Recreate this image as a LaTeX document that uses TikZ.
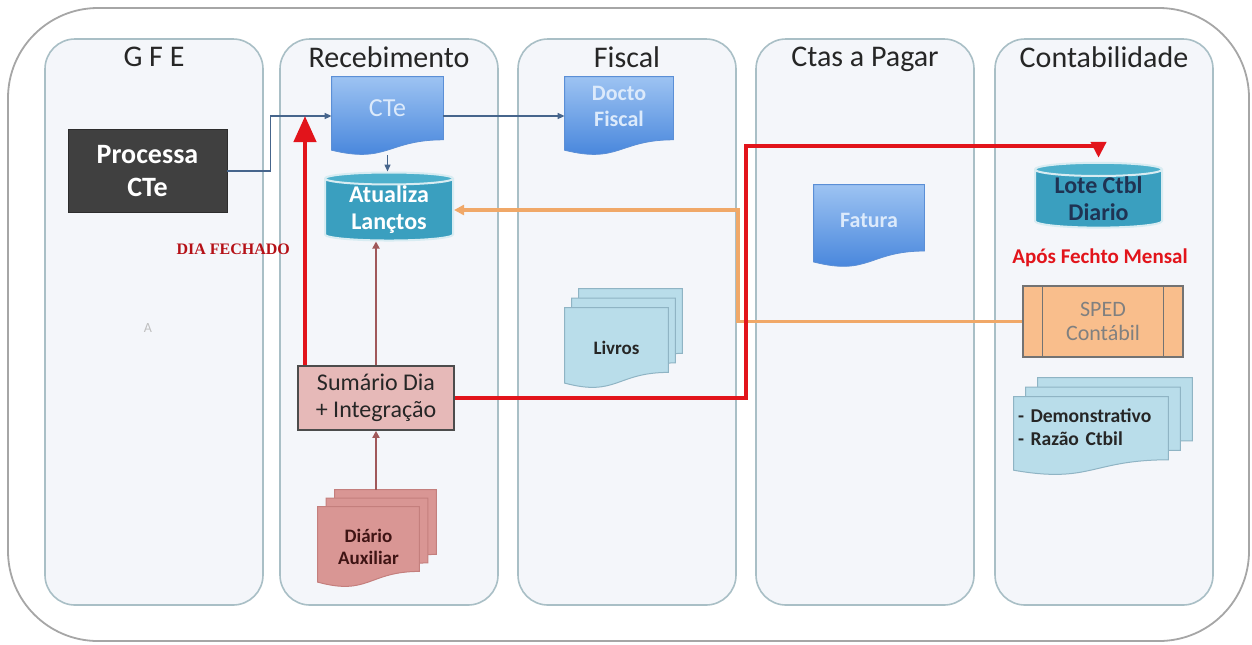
\documentclass[tikz,border=0pt]{standalone}
\usepackage{fontspec}
\setmainfont{Carlito}
\newfontfamily\timesfont{Liberation Serif}
\usetikzlibrary{arrows.meta,positioning,calc,shapes.geometric}

\definecolor{laneFill}{HTML}{F4F6FA}
\definecolor{laneLine}{HTML}{A9BFC6}
\definecolor{outerLine}{HTML}{A6A6A6}
\definecolor{procGray}{HTML}{404040}
\definecolor{docTop}{HTML}{9DC3F2}
\definecolor{docBot}{HTML}{3F80DA}
\definecolor{docLine}{HTML}{5B8FD6}
\definecolor{docText}{HTML}{DCEAFB}
\definecolor{dbBody}{HTML}{3A9FBF}
\definecolor{dbEnd}{HTML}{4DB0CC}
\definecolor{loteText}{HTML}{1F3353}
\definecolor{paleBlue}{HTML}{B9DDEA}
\definecolor{paleLine}{HTML}{8FB4C4}
\definecolor{pinkFill}{HTML}{E6B9B8}
\definecolor{roseFill}{HTML}{D99694}
\definecolor{roseLine}{HTML}{C47F7D}
\definecolor{roseText}{HTML}{3F1414}
\definecolor{spedFill}{HTML}{F9BE8C}
\definecolor{flowRed}{HTML}{E2141B}
\definecolor{flowOrange}{HTML}{F0A868}
\definecolor{flowBlue}{HTML}{46658C}
\definecolor{flowBrown}{HTML}{A0585A}

\pgfdeclarelayer{lanes}
\pgfdeclarelayer{sheets}
\pgfsetlayers{lanes,sheets,main}

% document sheet with wavy bottom behind a node (#3,#4 = shift right/up)
\newcommand{\docbg}[4]{%
  \path[#2] let \p1=(#1.north west), \p2=(#1.south east),
      \n1={\x2-\x1}, \n2={\y1-\y2} in
    (\x1+#3,\y1+#4) -- (\x2+#3,\y1+#4) -- (\x2+#3,\y1+#4-0.802*\n2)
    .. controls (\x1+#3+0.5*\n1,\y1+#4-0.802*\n2)
            and (\x1+#3+0.5*\n1,\y1+#4-1.107*\n2)
    .. (\x1+#3,\y1+#4-0.934*\n2) -- cycle;}

\begin{document}
\begin{tikzpicture}[x=0.5pt,y=-0.5pt,
  outerbox/.style={draw=outerLine,fill=white,line width=0.9pt,rounded corners=45pt},
  lane/.style={draw=laneLine,fill=laneFill,line width=0.8pt,rounded corners=15pt,
               minimum width=109pt,minimum height=283pt,inner sep=0pt},
  lanetitle/.style={font=\fontsize{15}{18}\selectfont,text=black!85,inner sep=0pt},
  procbox/.style={fill=procGray,draw=procGray!70!black,text=white,align=center,
                  font=\bfseries\fontsize{14}{16.5}\selectfont,
                  minimum width=79.5pt,minimum height=41.5pt},
  docnode/.style={inner sep=0pt,align=center},
  docblue/.style={top color=docTop,bottom color=docBot,draw=docLine,line width=0.4pt},
  docpale/.style={fill=paleBlue,draw=paleLine,line width=0.5pt},
  docrose/.style={fill=roseFill,draw=roseLine,line width=0.5pt},
  dbnode/.style={cylinder,shape border rotate=90,aspect=0.15,draw=white!80!dbBody,
                 line width=1pt,cylinder uses custom fill,cylinder body fill=dbBody,
                 cylinder end fill=dbEnd,align=center,inner sep=0pt,
                 font=\bfseries\fontsize{12}{13.5}\selectfont},
  sumbox/.style={fill=pinkFill,draw=black!70,line width=0.8pt,align=center,
                 font=\fontsize{12}{13.5}\selectfont,text=black!85,
                 minimum width=78pt,minimum height=32pt},
  spedbox/.style={fill=spedFill,draw=black!55,line width=0.7pt,align=center,
                  font=\fontsize{11}{12}\selectfont,text=black!50,
                  minimum width=80pt,minimum height=35.5pt},
  redtext/.style={font=\bfseries\fontsize{10.5}{12}\selectfont,text=flowRed},
  dayclosed/.style={font=\timesfont\bfseries\fontsize{8}{10}\selectfont,text=flowRed!80!black},
  flow/.style={draw=flowBlue,line width=0.7pt,-{Triangle[length=3.5pt,width=3pt]}},
  feed/.style={draw=flowBrown,line width=1pt,-{Triangle[length=3.5pt,width=3.5pt]}},
  redflow/.style={draw=flowRed,line width=2.2pt},
  orflow/.style={draw=flowOrange,line width=1.7pt,-{Triangle[length=5pt,width=5pt]}}]
\useasboundingbox (0,0) rectangle (1252,644);

\begin{pgfonlayer}{lanes}
\draw[outerbox] (8,8) rectangle (1249,641);
\node[lane] (gfe) at (154,322) {};
\node[lane] (rec) at (389,322) {};
\node[lane] (fis) at (627,322) {};
\node[lane] (ctas) at (865,322) {};
\node[lane] (cont) at (1104,322) {};
\end{pgfonlayer}

\node[lanetitle,below=4pt of gfe.north] (tgfe) {G F E};
\node[lanetitle,below=4pt of rec.north] (trec) {Recebimento};
\node[lanetitle,below=4pt of fis.north] (tfis) {Fiscal};
\node[lanetitle,below=4pt of ctas.north] (tctas) {Ctas a Pagar};
\node[lanetitle,below=4pt of cont.north] (tcont) {Contabilidade};

% GFE
\node[procbox] (proc) at (147.5,171) {Processa\\CTe};
\node[text=black!25,font=\fontsize{7}{8}\selectfont] (mark) at (148,328) {A};

% Recebimento
\node[docnode,minimum width=55.5pt,minimum height=39pt,text depth=8pt,text=docText,
      font=\fontsize{13}{15}\selectfont] (cte) at (387.5,116) {CTe};
\node[dbnode,minimum width=64pt,minimum height=34pt,text=white] (atual) at (389,210) {Atualiza\\Lançtos};
\node[sumbox] (sumario) at (376,398) {Sumário Dia\\+ Integração};
\node[docnode,minimum width=50.5pt,minimum height=40pt,text=roseText,
      font=\bfseries\fontsize{9.5}{11}\selectfont] (diario) at (368.5,547) {Diário\\Auxiliar};
\node[dayclosed,anchor=east] (diafech) at (297,249) {DIA FECHADO};

% Fiscal
\node[docnode,minimum width=54pt,minimum height=39pt,text depth=10pt,text=docText,
      font=\bfseries\fontsize{11}{13}\selectfont] (docfis) at (619,116) {Docto\\Fiscal};
\node[docnode,minimum width=51.5pt,minimum height=40pt,text=black!85,
      font=\bfseries\fontsize{9.5}{11}\selectfont] (livros) at (616.5,348) {Livros};

% Ctas a Pagar
\node[docnode,minimum width=55pt,minimum height=41pt,text depth=6pt,text=docText,
      font=\bfseries\fontsize{11}{13}\selectfont] (fatura) at (869,226) {Fatura};

% Contabilidade
\node[dbnode,minimum width=63.5pt,minimum height=30pt,text=loteText] (lote) at (1098.5,199) {Lote Ctbl\\Diario};
\node[redtext] (apos) at (1100,258) {Após Fechto Mensal};
\node[spedbox] (sped) at (1103,321.5) {SPED\\Contábil};
\draw[draw=black!55,line width=0.7pt] ([xshift=10pt]sped.north west) -- ([xshift=10pt]sped.south west)
  ([xshift=-10pt]sped.north east) -- ([xshift=-10pt]sped.south east);
\node[docnode,minimum width=77pt,minimum height=39pt,text width=73pt,align=left,text depth=20pt,
      text=black!85,font=\bfseries\fontsize{9.8}{11.5}\selectfont] (demo) at (1091,436)
      {- Demonstrativo\\- Razão Ctbil};

\begin{pgfonlayer}{sheets}
\docbg{cte}{docblue}{0pt}{0pt}
\docbg{docfis}{docblue}{0pt}{0pt}
\docbg{fatura}{docblue}{0pt}{0pt}
\docbg{livros}{docpale}{7pt}{9.5pt}
\docbg{livros}{docpale}{3.5pt}{4.75pt}
\docbg{livros}{docpale}{0pt}{0pt}
\docbg{demo}{docpale}{12pt}{9.5pt}
\docbg{demo}{docpale}{6pt}{4.75pt}
\docbg{demo}{docpale}{0pt}{0pt}
\docbg{diario}{docrose}{8.5pt}{8.5pt}
\docbg{diario}{docrose}{4.25pt}{4.25pt}
\docbg{diario}{docrose}{0pt}{0pt}
\end{pgfonlayer}

% connectors
\draw[flow] (proc.east) -- ++(43,0) |- (cte.west);
\draw[flow] (cte.east) -- (docfis.west);
\draw[flow] (cte.south) -- (cte.south |- atual.north);
\draw[feed] (sumario.north) -- (sumario.north |- atual.south);
\coordinate (diartop) at ($(diario.north)+(0,-17)$);
\draw[feed] (diartop -| sumario.south) -- (sumario.south);
\coordinate (orbend) at (738,250);
\draw[orflow] (sped.west) -| (orbend) |- (atual.east);
\coordinate (closeday) at (305,116);
\draw[redflow,-{Triangle[length=13pt,width=11pt]}] (sumario.north west -| closeday) -- (closeday);
\coordinate (redbend) at (746,146);
\draw[redflow,-{Triangle[length=8pt,width=7.5pt]},shorten >=2pt] (sumario.east) -| (redbend)
  -- (redbend -| lote.north) -- (lote.north);
\end{tikzpicture}
\end{document}
